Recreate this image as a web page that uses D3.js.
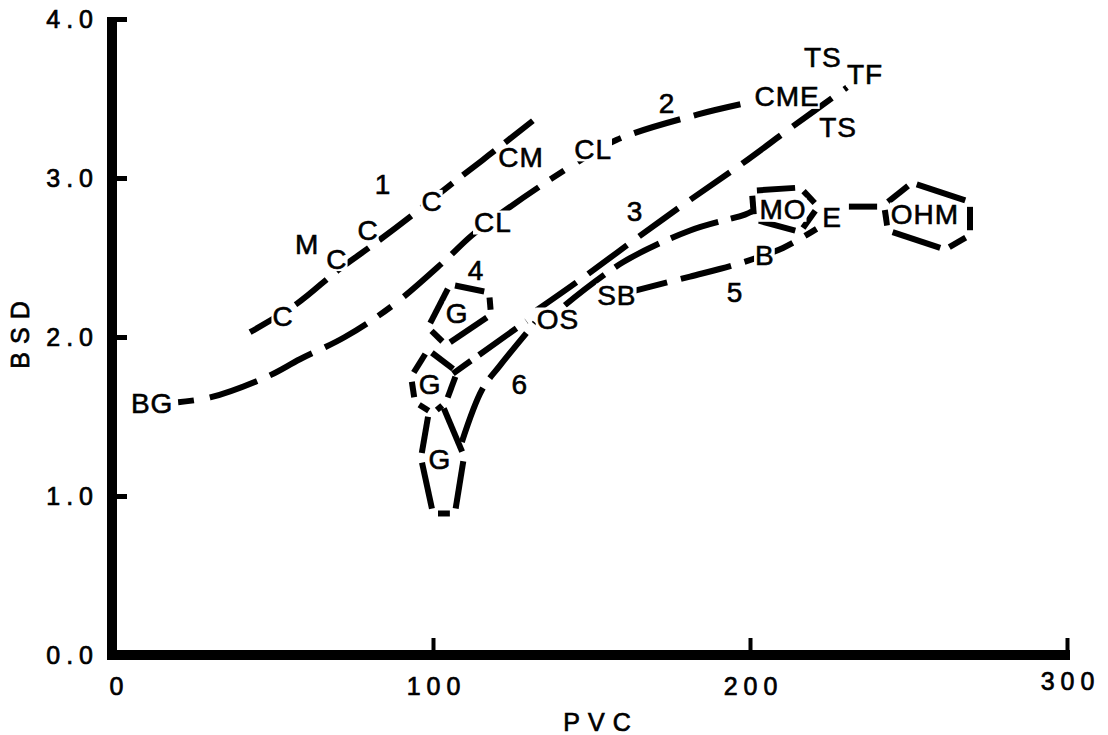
<!DOCTYPE html>
<html>
<head>
<meta charset="utf-8">
<script src="https://cdn.jsdelivr.net/npm/d3@7"></script>
<style>
  body { margin: 0; background: #fff; }
  svg text { font-family: "Liberation Sans", Arial, sans-serif; fill: #000; }
</style>
</head>
<body>
<div id="chart"></div>
<script>
var xTicks = [0, 100, 200, 300];
var yTicks = [0, 1, 2, 3, 4];

// dashed trends, [PVC, BSD]
var line1 = [[42.3,2.03],[57.1,2.21],[70.0,2.42],[81.1,2.58],[94.3,2.78],[104.4,2.94],[117.4,3.14],[131.5,3.36]];
var line2 = [[19.6,1.59],[29.7,1.62],[47.6,1.75],[58.0,1.86],[72.2,2.00],[87.4,2.20],[103.2,2.47],[112.3,2.64],[123.7,2.81],[143.2,3.07],[158.0,3.24],[183.6,3.40],[198.4,3.47]];
var line3 = [[132.8,2.17],[145.7,2.35],[162.1,2.59],[179.5,2.84],[196.8,3.08],[213.2,3.32],[230.6,3.57]];
var lineMO = [[141.6,2.20],[159.9,2.47],[181.1,2.67],[198.4,2.77],[200.6,2.79]];
var line5 = [[158.0,2.26],[165.3,2.30],[181.1,2.38],[197.8,2.47],[210.4,2.56],[221.0,2.68]];
var line6 = [[109.1,1.34],[115.5,1.67],[121.1,1.82],[132.2,2.09]];
var lineGOS = [[106.3,1.77],[129.5,2.10]];
var lineEO = [[231.2,2.82],[240.1,2.82]];

// outlined groups
var polyG4 = [[105.4,2.33],[117.7,2.28],[118.3,2.14],[104.1,1.95],[98.4,2.06]];
var polyGmid = [[98.4,1.92],[107.6,1.78],[104.1,1.59],[100.0,1.52],[94.3,1.59],[93.1,1.75]];
var polyGlow = [[102.8,1.58],[109.8,1.25],[106.9,0.89],[100.0,0.89],[96.2,1.24],[98.7,1.53]];
var polyMO = [[200.6,2.92],[215.8,2.94],[221.5,2.82],[215.8,2.66],[201.3,2.74]];
var polyOHM = [[242.3,2.83],[251.1,2.97],[269.4,2.85],[269.4,2.64],[261.5,2.55],[243.5,2.67]];

var labels = [
  {t:'C', x:52.7, y:2.13}, {t:'M', x:60.3, y:2.58}, {t:'C', x:69.7, y:2.49},
  {t:'C', x:79.5, y:2.67}, {t:'C', x:99.7, y:2.85}, {t:'CM', x:127.8, y:3.13},
  {t:'1', x:84.2, y:2.96},
  {t:'BG', x:11.4, y:1.58}, {t:'CL', x:118.9, y:2.72}, {t:'CL', x:150.5, y:3.18},
  {t:'2', x:173.8, y:3.47}, {t:'CME', x:211.7, y:3.51},
  {t:'3', x:163.7, y:2.79}, {t:'TS', x:223.0, y:3.76}, {t:'TF', x:236.3, y:3.65},
  {t:'TS', x:227.8, y:3.32},
  {t:'OS', x:139.4, y:2.11}, {t:'SB', x:158.0, y:2.26}, {t:'5', x:195.3, y:2.28},
  {t:'B', x:204.7, y:2.51}, {t:'E', x:225.9, y:2.75}, {t:'MO', x:210.4, y:2.80},
  {t:'OHM', x:255.2, y:2.77},
  {t:'4', x:113.6, y:2.42}, {t:'6', x:127.4, y:1.70},
  {t:'G', x:107.6, y:2.15}, {t:'G', x:99.1, y:1.70}, {t:'G', x:102.2, y:1.23}
];

var width = 1108,
    height = 735;

var svg = d3.select('#chart')
  .append('svg')
  .attr('width', width)
  .attr('height', height);

var x = d3.scaleLinear().domain([0, 300]).range([116, 1067]);
var y = d3.scaleLinear().domain([0, 4]).range([655, 19]);
var spineX = 112;

// axes
var yAxis = d3.axisLeft(y)
  .tickValues(yTicks)
  .tickFormat(d3.format('.1f'))
  .tickSizeInner(-15)
  .tickSizeOuter(0)
  .tickPadding(13);

var gy = svg.append('g')
  .attr('transform', 'translate(' + spineX + ',0)')
  .call(yAxis);
gy.select('.domain').remove();
gy.selectAll('.tick line').attr('stroke', '#000').attr('stroke-width', 5);
gy.selectAll('.tick text')
  .attr('font-size', 25)
  .attr('letter-spacing', 6)
  .attr('stroke', '#000')
  .attr('stroke-width', 0.7)
  .attr('font-family', '"Liberation Sans", Arial, sans-serif');

var xAxis = d3.axisBottom(x)
  .tickValues(xTicks)
  .tickFormat(d3.format('d'))
  .tickSizeInner(-17)
  .tickSizeOuter(0);

var gx = svg.append('g')
  .attr('transform', 'translate(0,' + y(0) + ')')
  .call(xAxis);
gx.select('.domain').remove();
gx.selectAll('.tick line')
  .attr('stroke', '#000')
  .attr('stroke-width', 4)
  .style('display', function(d) { return d === 0 ? 'none' : null });
gx.selectAll('.tick text')
  .attr('y', function(d) { return d === 300 ? 26 : 31 })
  .attr('dy', '0.35em')
  .attr('dx', 3)
  .attr('font-size', 25)
  .attr('letter-spacing', 6)
  .attr('stroke', '#000')
  .attr('stroke-width', 0.7)
  .attr('font-family', '"Liberation Sans", Arial, sans-serif');

svg.append('line')
  .attr('x1', spineX).attr('x2', spineX)
  .attr('y1', y(4) - 2).attr('y2', y(0) + 5)
  .attr('stroke', '#000').attr('stroke-width', 10);
svg.append('line')
  .attr('x1', spineX - 5).attr('x2', x(300) + 3)
  .attr('y1', y(0)).attr('y2', y(0))
  .attr('stroke', '#000').attr('stroke-width', 10);

svg.append('text')
  .attr('x', 601).attr('y', 722)
  .attr('text-anchor', 'middle')
  .attr('dominant-baseline', 'central')
  .attr('font-size', 25)
  .attr('letter-spacing', 8)
  .attr('stroke', '#000')
  .attr('stroke-width', 0.7)
  .text('PVC');

svg.append('text')
  .attr('transform', 'translate(20,331) rotate(-90)')
  .attr('text-anchor', 'middle')
  .attr('dominant-baseline', 'central')
  .attr('font-size', 25)
  .attr('letter-spacing', 8)
  .attr('stroke', '#000')
  .attr('stroke-width', 0.7)
  .text('BSD');

// dashed lines
var path = d3.line()
  .x(function(d) { return x(d[0]) })
  .y(function(d) { return y(d[1]) })
  .curve(d3.curveCatmullRom);

var lines = [
  {pts: line1, dash: '40,13'},
  {pts: line2, dash: '16,16,50,14,48,14,48,14'},
  {pts: line3, dash: '48,15'},
  {pts: lineMO, dash: '50,13'},
  {pts: line5, dash: '52,14'},
  {pts: line6, dash: '58,12'},
  {pts: lineGOS, dash: '22,10,46,12'},
  {pts: lineEO, dash: null}
];

svg.append('g')
  .selectAll('path')
  .data(lines)
  .enter()
  .append('path')
  .attr('d', function(d) { return path(d.pts) })
  .attr('fill', 'none')
  .attr('stroke', '#000')
  .attr('stroke-width', 6)
  .attr('stroke-dasharray', function(d) { return d.dash });

// polygon outlines drawn as broken edges
var polys = [
  {pts: polyG4, closed: true},
  {pts: polyGmid, closed: true},
  {pts: polyGlow, closed: false},
  {pts: polyMO, closed: true},
  {pts: polyOHM, closed: true}
];

var gap = 5;
var edges = [];
polys.forEach(function(p) {
  var n = p.pts.length;
  var m = p.closed ? n : n - 1;
  for (var i = 0; i < m; i++) {
    var a = p.pts[i], b = p.pts[(i + 1) % n];
    var x1 = x(a[0]), y1 = y(a[1]), x2 = x(b[0]), y2 = y(b[1]);
    var len = Math.hypot(x2 - x1, y2 - y1);
    var ux = (x2 - x1) / len, uy = (y2 - y1) / len;
    edges.push([x1 + ux * gap, y1 + uy * gap, x2 - ux * gap, y2 - uy * gap]);
  }
});

svg.append('g')
  .selectAll('line')
  .data(edges)
  .enter()
  .append('line')
  .attr('x1', function(d) { return d[0] })
  .attr('y1', function(d) { return d[1] })
  .attr('x2', function(d) { return d[2] })
  .attr('y2', function(d) { return d[3] })
  .attr('stroke', '#000')
  .attr('stroke-width', 6);

// labels sit on a white box so the lines break round them
var lab = svg.append('g')
  .selectAll('g')
  .data(labels)
  .enter()
  .append('g')
  .attr('transform', function(d) { return 'translate(' + x(d.x) + ',' + y(d.y) + ')' });

var bg = lab.append('rect').attr('fill', '#fff');

var txt = lab.append('text')
  .attr('text-anchor', 'middle')
  .attr('dominant-baseline', 'central')
  .attr('font-size', 28)
  .attr('letter-spacing', 1)
  .attr('stroke', '#000')
  .attr('stroke-width', 0.6)
  .text(function(d) { return d.t });

txt.each(function() {
  var b = this.getBBox();
  d3.select(this.previousSibling)
    .attr('x', b.x - 1)
    .attr('width', b.width + 1)
    .attr('y', -12)
    .attr('height', 24);
});
</script>
</body>
</html>
